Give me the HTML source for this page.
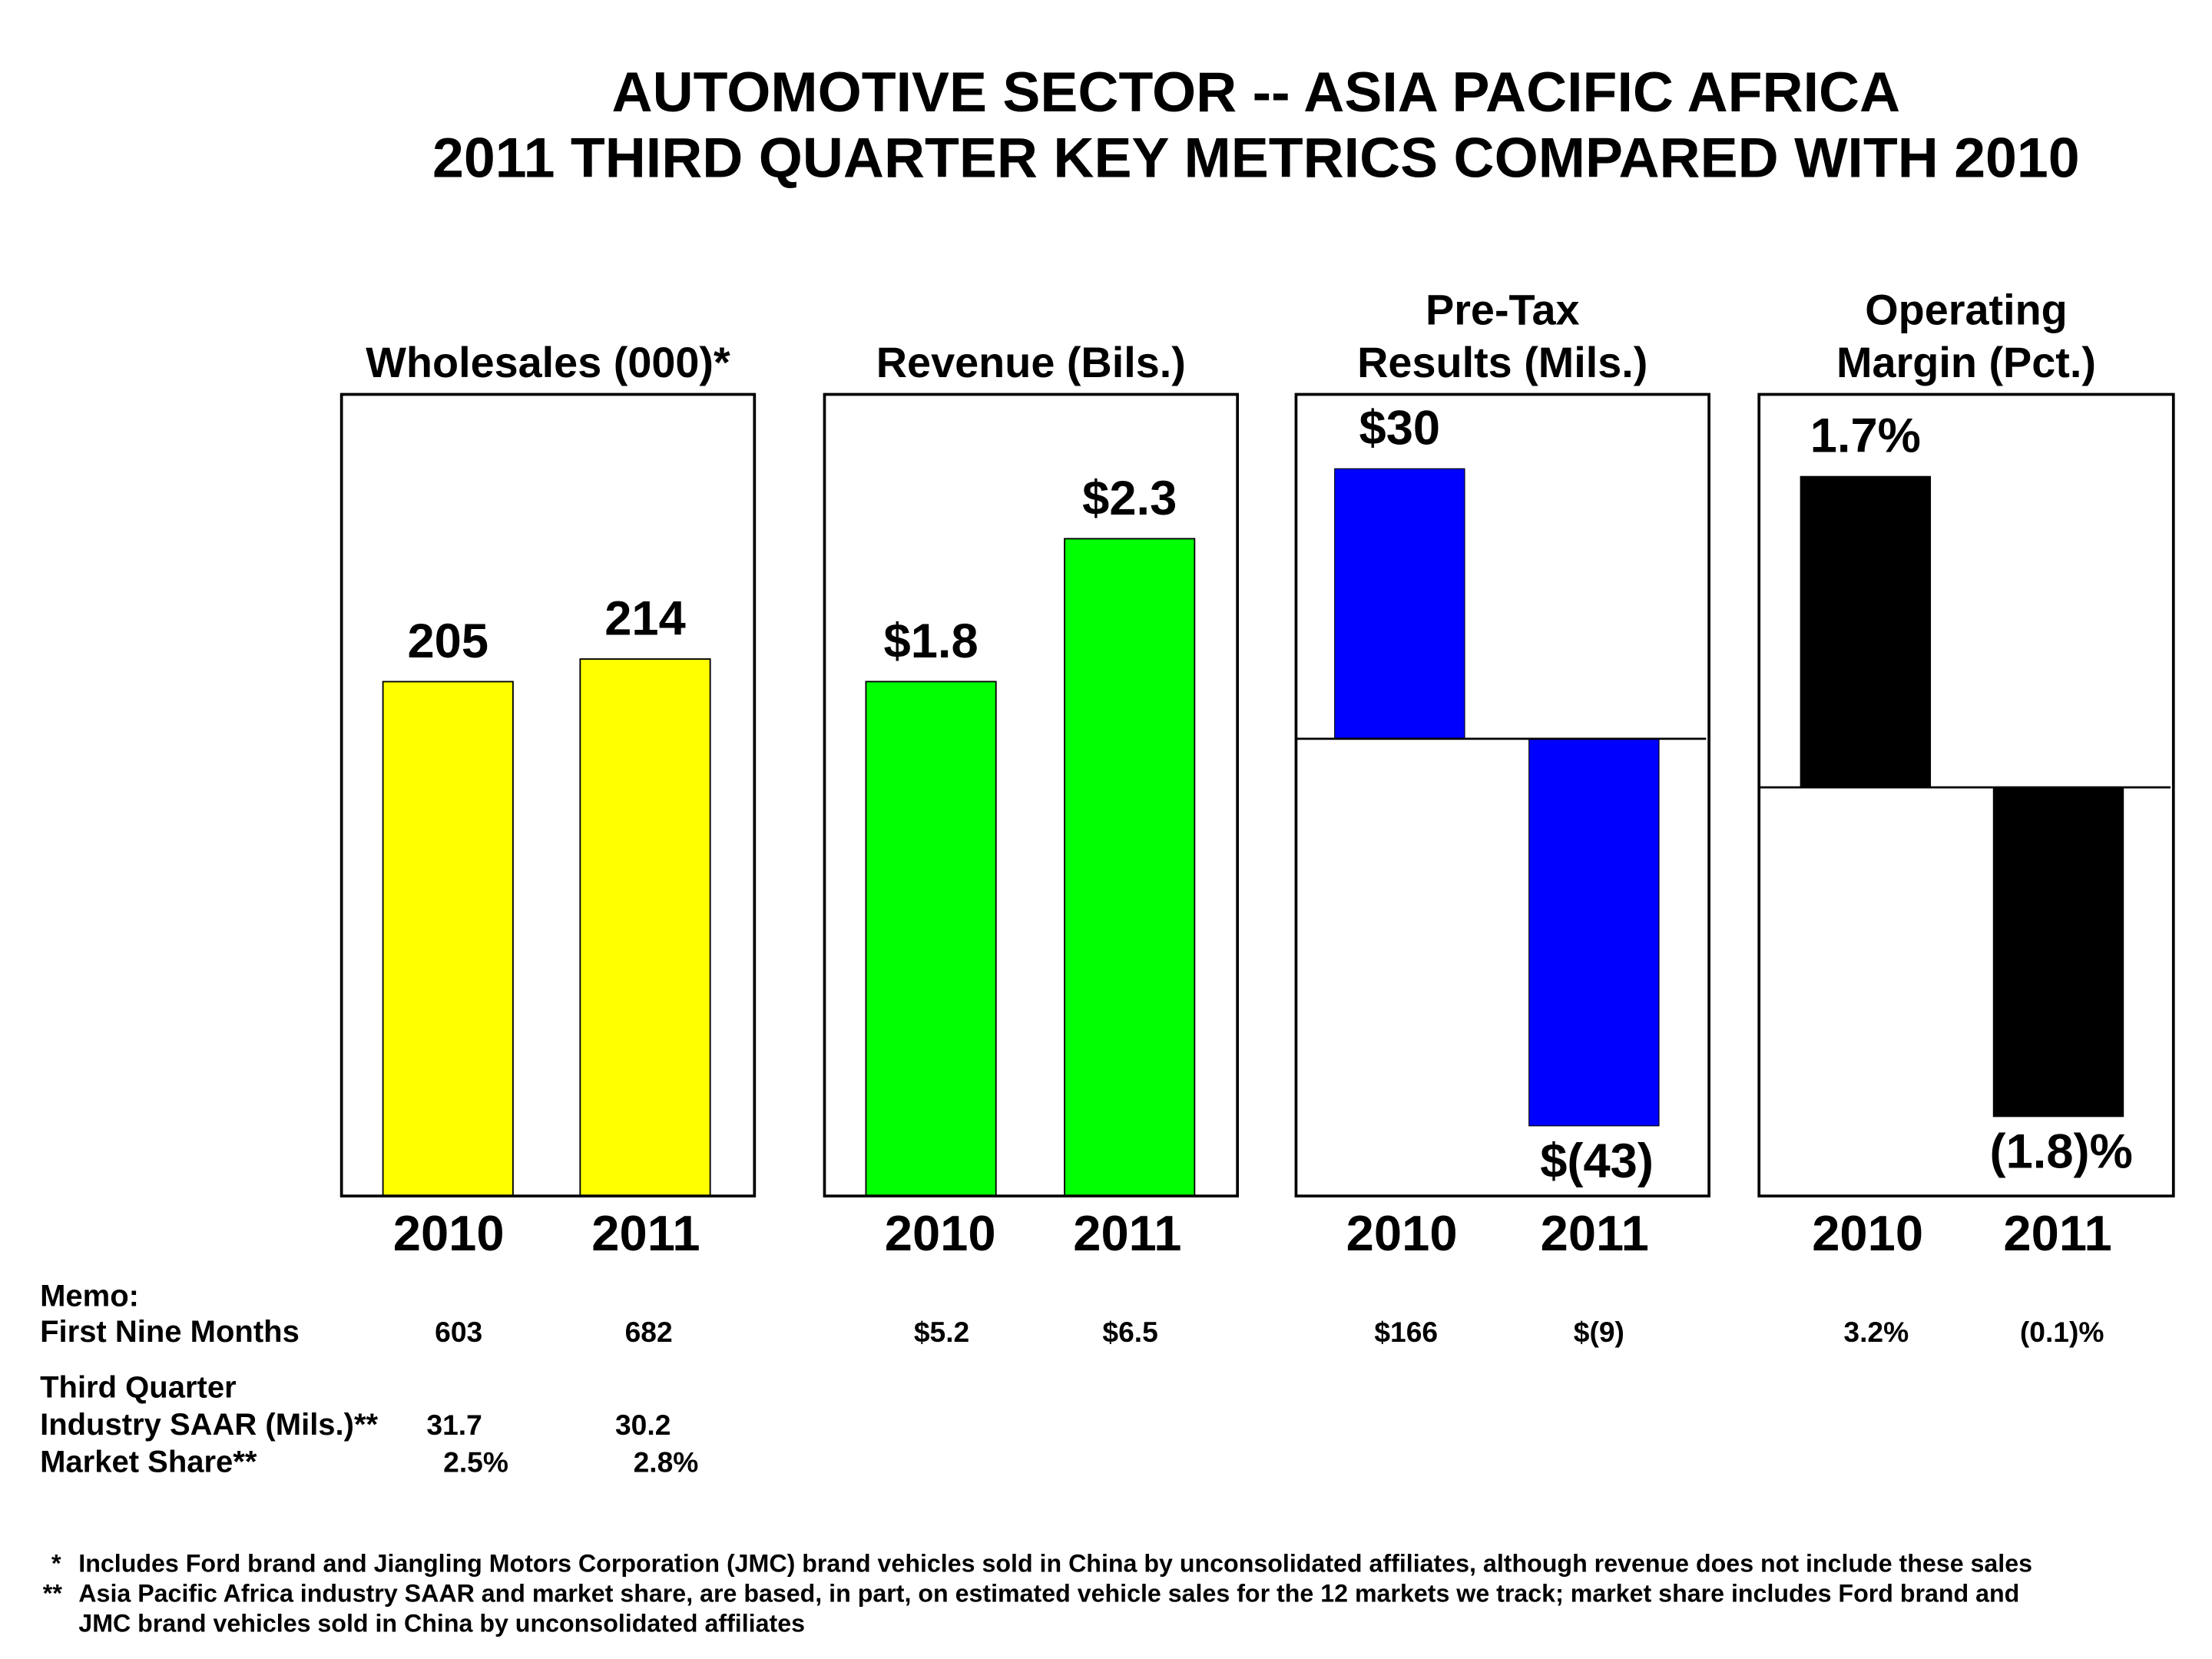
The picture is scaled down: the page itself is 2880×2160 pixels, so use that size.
<!DOCTYPE html>
<html><head><meta charset="utf-8"><style>
html,body{margin:0;padding:0;background:#fff;}
svg{display:block;font-family:"Liberation Sans",Arial,sans-serif;font-weight:bold;}
</style></head><body>
<svg id="chart" width="2880" height="2160" viewBox="0 0 1548 1161" xmlns="http://www.w3.org/2000/svg">
<g text-anchor="middle" font-size="39.5">
<text x="879" y="78">AUTOMOTIVE SECTOR -- ASIA PACIFIC AFRICA</text>
<text x="879" y="124">2011 THIRD QUARTER KEY METRICS COMPARED WITH 2010</text>
</g>
<g id="panels"></g>
<g font-size="20">
<text x="28" y="914" font-size="21.5">Memo:</text>
<text x="28" y="939" font-size="21.5">First Nine Months</text>
<text x="28" y="978" font-size="21.5">Third Quarter</text>
<text x="28" y="1004" font-size="21.5">Industry SAAR (Mils.)**</text>
<text x="28" y="1030" font-size="21.5">Market Share**</text>
<g id="memo-values" text-anchor="middle"></g>
</g>
<g font-size="17.3">
<text x="36" y="1100">*</text>
<text x="55" y="1100">Includes Ford brand and Jiangling Motors Corporation (JMC) brand vehicles sold in China by unconsolidated affiliates, although revenue does not include these sales</text>
<text x="30" y="1121">**</text>
<text x="55" y="1121">Asia Pacific Africa industry SAAR and market share, are based, in part, on estimated vehicle sales for the 12 markets we track; market share includes Ford brand and</text>
<text x="55" y="1142">JMC brand vehicles sold in China by unconsolidated affiliates</text>
</g>
</svg>
<script>
const years = ["2010", "2011"];
const wholesales = [205, 214];
const revenue = [1.8, 2.3];
const pretax = [30, -43];
const margin = [1.7, -1.8];
const wholesalesLabels = ["205", "214"];
const revenueLabels = ["$1.8", "$2.3"];
const pretaxLabels = ["$30", "$(43)"];
const marginLabels = ["1.7%", "(1.8)%"];
const firstNine = ["603", "682", "$5.2", "$6.5", "$166", "$(9)", "3.2%", "(0.1)%"];
const saar = ["31.7", "30.2"];
const share = ["2.5%", "2.8%"];

const NS = "http://www.w3.org/2000/svg";
const panelsG = document.getElementById('panels');
function mk(tag, attrs, parent, text) {
  const e = document.createElementNS(NS, tag);
  for (const k in attrs) e.setAttribute(k, attrs[k]);
  if (text !== undefined) e.textContent = text;
  parent.appendChild(e);
  return e;
}
const panels = [
  {key:'wholesales', vals:wholesales, labels:wholesalesLabels, title:["Wholesales (000)*"], color:'#ffff00', x0:239, x1:528, zero:837, unit:1.756, bars:[268,406], yl:[314,452], stroke:true},
  {key:'revenue', vals:revenue, labels:revenueLabels, title:["Revenue (Bils.)"], color:'#00ff00', x0:577, x1:866, zero:837, unit:200, bars:[606,745], yl:[658,789], stroke:true},
  {key:'pretax', vals:pretax, labels:pretaxLabels, title:["Pre-Tax","Results (Mils.)"], color:'#0000ff', x0:907, x1:1196, zero:517, unit:6.3, bars:[934,1070], yl:[981,1116], stroke:false},
  {key:'margin', vals:margin, labels:marginLabels, title:["Operating","Margin (Pct.)"], color:'#000000', x0:1231, x1:1521, zero:551, unit:128, bars:[1260,1395], yl:[1307,1440], stroke:false}
];
const BW = 91, TOP = 276, BOT = 837;
panels.forEach(p => {
  const g = mk('g', {}, panelsG);
  
  
  const cx = (p.x0 + p.x1) / 2;
  p.title.forEach((t, i) => {
    const tt = mk('text', {x:cx, y:264 - (p.title.length - 1 - i) * 37, 'text-anchor':'middle', 'font-size':30}, g, t);
    
    
  });
  const y = v => p.zero - v * p.unit;
  p.vals.forEach((v, i) => {
    const yt = Math.min(y(v), p.zero), h = Math.abs(y(v) - p.zero);
    const r = mk('rect', {x:p.bars[i], y:yt, width:BW, height:h, fill:p.color, stroke:'#000', 'stroke-width':p.stroke ? 1 : 0.6}, g);
    
    
    const lbl = mk('text', {x:p.bars[i] + BW/2 + (v < 0 ? 2 : 0), y: v >= 0 ? y(v) - 17 : Math.min(y(v) + 36, 828), 'text-anchor':'middle', 'font-size':34}, g, p.labels[i]);
    
    
    const yr = mk('text', {x:p.yl[i], y:875, 'text-anchor':'middle', 'font-size':35}, g, years[i]);
    
    
  });
  if (p.zero !== BOT) {
    const zl = mk('line', {x1:p.x0, x2:p.x1 - 2, y1:p.zero, y2:p.zero, stroke:'#000', 'stroke-width':1.5}, g);
    
    
  }
  const box = mk('rect', {x:p.x0, y:TOP, width:p.x1 - p.x0, height:BOT - TOP, fill:'none', stroke:'#000', 'stroke-width':2}, g);
  
  
});
const mv = document.getElementById('memo-values');
const nineX = [321, 454, 659, 791, 984, 1119, 1313, 1443];
firstNine.forEach((t, i) => {
  const e = mk('text', {x:nineX[i], y:939}, mv, t);
  
  
});
saar.forEach((t, i) => {
  const e = mk('text', {x:[318, 450][i], y:1004}, mv, t);
  
  
});
share.forEach((t, i) => {
  const e = mk('text', {x:[333, 466][i], y:1030}, mv, t);
  
  
});
</script>
</body></html>
